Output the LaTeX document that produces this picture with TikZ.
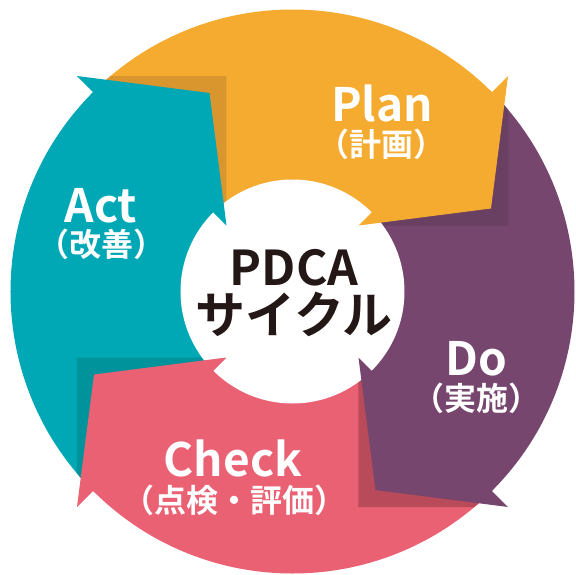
\documentclass[tikz,border=0pt]{standalone}
\usepackage{fontspec}
\newfontfamily\jpfont{Noto Sans CJK JP Bold}
\definecolor{actc}{HTML}{00A7B5}
\definecolor{actshd}{HTML}{00939B}
\definecolor{planc}{HTML}{F5AB2F}
\definecolor{planshd}{HTML}{D9952E}
\definecolor{doc}{HTML}{76466E}
\definecolor{doshd}{HTML}{693F62}
\definecolor{checkc}{HTML}{EA6174}
\definecolor{checkshd}{HTML}{B94A59}
\definecolor{midc}{HTML}{231815}

\begin{document}
\begin{tikzpicture}[x=1pt, y=1pt,
  lbl/.style={text=white, inner sep=0pt, anchor=base, font=\jpfont\fontsize{46}{46}\selectfont},
  sub/.style={text=white, inner sep=0pt, font=\jpfont\fontsize{32}{32}\selectfont},
  mid/.style={text=midc, inner sep=0pt, font=\jpfont\fontsize{#1}{#1}\selectfont}]
  \useasboundingbox (-292.5,-282.5) rectangle (283.5,291.5);
  % ring quarters
  \fill[actc] (0,0) -- (135:282) arc[start angle=135, end angle=225, radius=282] -- cycle;
  \fill[planc] (0,0) -- (45:282) arc[start angle=45, end angle=135, radius=282] -- cycle;
  \fill[doc] (0,0) -- (-45:282) arc[start angle=-45, end angle=45, radius=282] -- cycle;
  \fill[checkc] (0,0) -- (225:282) arc[start angle=225, end angle=315, radius=282] -- cycle;
  % shadows under the heads
  \begin{scope}
    \clip (0,0) circle (282);
    \fill[planshd] (-215.5,215.5) -- (-66,215.5) -- (-66,66) -- cycle;
    \fill[doshd, rotate=-90] (-215.5,215.5) -- (-66,215.5) -- (-66,66) -- cycle;
    \fill[checkshd, rotate=180] (-215.5,215.5) -- (-66,215.5) -- (-66,66) -- cycle;
    \fill[actshd, rotate=90] (-215.5,215.5) -- (-66,215.5) -- (-66,66) -- cycle;
  \end{scope}
  \fill[white] (0,0) circle (112);
  % heads
  \fill[actc] (-215.5,215.5) -- (-83,198.5) -- (-66,66) -- (135:112) -- (136.5:113) -- (136.5:281) -- (135:282) -- cycle;
  \fill[planc, rotate=-90] (-215.5,215.5) -- (-83,198.5) -- (-66,66) -- (135:112) -- (136.5:113) -- (136.5:281) -- (135:282) -- cycle;
  \fill[doc, rotate=180] (-215.5,215.5) -- (-83,198.5) -- (-66,66) -- (135:112) -- (136.5:113) -- (136.5:281) -- (135:282) -- cycle;
  \fill[checkc, rotate=90] (-215.5,215.5) -- (-83,198.5) -- (-66,66) -- (135:112) -- (136.5:113) -- (136.5:281) -- (135:282) -- cycle;
  % labels
  \node[lbl] (plan) at (89.5,170.5) {Plan};
  \node[sub] (plansub) at (89.5,147.5) {（計画）};
  \node[lbl] (act) at (-191.5,69.5) {Act};
  \node[sub] (actsub) at (-190.5,47.5) {（改善）};
  \node[lbl] (do) at (183.5,-83.5) {Do};
  \node[sub] (dosub) at (184.5,-106.5) {（実施）};
  \node[lbl] (check) at (-59.5,-184.5) {Check};
  \node[sub] (checksub) at (-57.5,-208.5) {（点検・評価）};
  \node[mid=48, anchor=base] (pdca) at (1.5,6.5) {PDCA};
  \node[mid=50] (cycle) at (1.5,-22.5) {サイクル};
\end{tikzpicture}
\end{document}
